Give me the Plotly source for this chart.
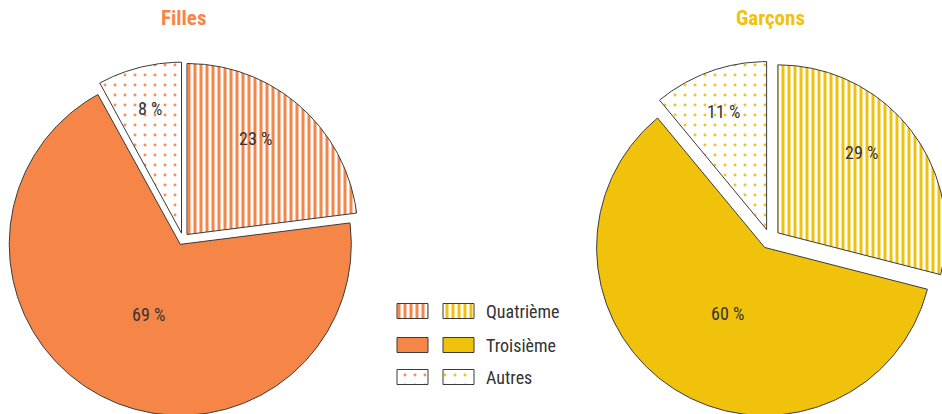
import numpy as np
import plotly.graph_objects as go

# ---------------- data ----------------
groups = ["Filles", "Garçons"]
categories = ["Quatrième", "Troisième", "Autres"]
filles = [23, 69, 8]
garcons = [29, 60, 11]
values = [filles, garcons]

# ---------------- styles / layout ----------------
W, H = 942, 414
colors = ["#F58648", "#F0C20B"]
dot_colors = ["#F58F58", "#F0C520"]
outline = "#3a3a3a"
text_color = "#333333"
font_family = "Liberation Sans Narrow, Roboto Condensed, Roboto, sans-serif"
centers = [(183, 239), (770, 239)]       # pixel units (y downward)
radii = [171, 168]
explode = [6, 10]
label_frac = [0.69, 0.45, 0.75]          # radial position of labels per category
label_turn = [-6, -3, 0]                 # angular tweak of labels (degrees)
title_y = 18


def pattern_for(cat_idx, g):
    if cat_idx == 0:
        return dict(shape="|", fgcolor=colors[g], bgcolor="white", size=6,
                    solidity=0.5, fillmode="replace")
    if cat_idx == 2:
        return dict(shape=".", fgcolor=dot_colors[g], bgcolor="white", size=10,
                    solidity=0.07, fillmode="replace")
    return None


fig = go.Figure()
annotations = []

for g, vals in enumerate(values):
    cx, cy = centers[g]
    r = radii[g]
    d = explode[g]
    color = colors[g]
    total = float(sum(vals))
    start = 0.0
    for k, v in enumerate(vals):
        frac = v / total
        a0 = start * 2 * np.pi
        a1 = (start + frac) * 2 * np.pi
        mid = (a0 + a1) / 2
        ox = cx + d * np.sin(mid)
        oy = cy - d * np.cos(mid)
        th = np.linspace(a0, a1, 240)
        xs = np.concatenate([[ox], ox + r * np.sin(th), [ox]])
        ys = np.concatenate([[oy], oy - r * np.cos(th), [oy]])
        pat = pattern_for(k, g)
        kw = dict(fillcolor=color) if pat is None else dict(fillcolor="white", fillpattern=pat)
        fig.add_trace(go.Scatter(
            x=xs, y=ys, mode="lines", fill="toself",
            line=dict(color=outline, width=1), hoverinfo="skip",
            showlegend=False, **kw))
        lr = label_frac[k] * r
        la = mid + np.deg2rad(label_turn[k])
        annotations.append(dict(
            x=ox + lr * np.sin(la), y=oy - lr * np.cos(la),
            text=f"{v} %", showarrow=False, xref="x", yref="y",
            font=dict(family=font_family, size=18, color=text_color)))
        start += frac
    annotations.append(dict(
        x=cx, y=title_y, text=f"<b>{groups[g]}</b>", showarrow=False,
        xref="x", yref="y",
        font=dict(family=font_family, size=21, color=color)))

# ---------------- custom legend ----------------
leg_x = [397, 443]
leg_w, leg_h = 31, 15
leg_y = [311, 345, 377]
leg_text_x = 484
for k, cat in enumerate(categories):
    yc = leg_y[k]
    for g in range(2):
        x0 = leg_x[g]
        x1 = x0 + leg_w
        y0 = yc - leg_h / 2
        y1 = yc + leg_h / 2
        pat = pattern_for(k, g)
        kw = dict(fillcolor=colors[g]) if pat is None else dict(fillcolor="white", fillpattern=pat)
        fig.add_trace(go.Scatter(
            x=[x0, x1, x1, x0, x0], y=[y0, y0, y1, y1, y0], mode="lines",
            fill="toself", line=dict(color=outline, width=1),
            hoverinfo="skip", showlegend=False, **kw))
    annotations.append(dict(
        x=leg_text_x, y=yc, text=cat, showarrow=False, xref="x", yref="y",
        xanchor="left", yanchor="middle",
        font=dict(family=font_family, size=18, color=text_color)))

fig.update_layout(
    width=W, height=H,
    margin=dict(l=0, r=0, t=0, b=0),
    paper_bgcolor="white", plot_bgcolor="white",
    xaxis=dict(range=[0, W], visible=False, fixedrange=True),
    yaxis=dict(range=[H, 0], visible=False, fixedrange=True),
    annotations=annotations,
    showlegend=False,
)

fig.write_html(
    "out.html",
    config={"displayModeBar": False},
    post_script="document.body.style.margin='0';document.body.style.overflow='hidden';",
)
